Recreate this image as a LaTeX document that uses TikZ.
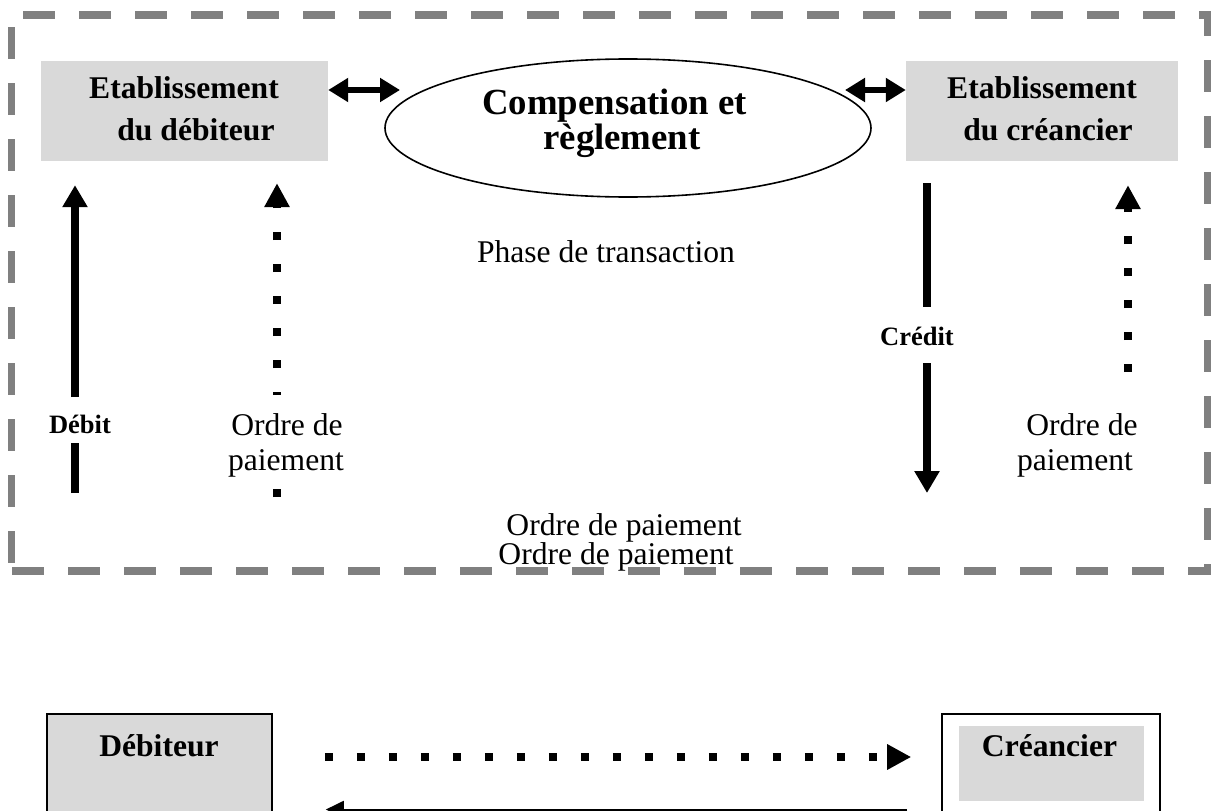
\documentclass[tikz,border=0pt]{standalone}
\usepackage{fontspec}
\setmainfont{Liberation Serif}
\usetikzlibrary{arrows.meta,shapes.geometric}
\definecolor{boxgray}{RGB}{217,217,217}
\definecolor{framegray}{RGB}{128,128,128}

\begin{document}
\begin{tikzpicture}[x=1pt,y=-1pt,
  frame/.style={draw=framegray, line width=7.5pt, dash pattern=on 32pt off 24pt},
  bank/.style={fill=boxgray, draw=none, inner sep=0pt},
  party/.style={draw, line width=1.6pt, inner sep=0pt},
  txt/.style={inner sep=0pt, anchor=base, font=\fontsize{31.6}{35}\selectfont},
  btxt/.style={txt, font=\bfseries\fontsize{31.6}{35}\selectfont},
  htxt/.style={txt, font=\bfseries\fontsize{36.8}{40}\selectfont},
  stxt/.style={txt, font=\bfseries\fontsize{26.5}{30}\selectfont},
  dbl/.style={line width=6pt, {Triangle[length=20pt,width=23pt]}-{Triangle[length=20pt,width=23pt]}},
  heavy/.style={line width=8pt},
  heavyarrow/.style={heavy, -{Triangle[length=22pt,width=24pt]}},
  dots/.style={line width=8pt, dash pattern=on 8pt off 24pt},
  dotsarrow/.style={dots, -{Triangle[length=24pt,width=24pt]}},
  thinarrow/.style={line width=2pt, -{Triangle[length=18pt,width=17pt]}}
]
\clip (0,0) rectangle (1211,811);

% dashed frame around the interbank part
\draw[frame] (23,15) -- (1215,15);
\draw[frame] (11.5,27) -- (11.5,575);
\draw[frame, dash phase=7pt] (1208,11) -- (1208,575);
\draw[frame] (12,571) -- (1215,571);

% banks and clearing
\node[bank, minimum width=287pt, minimum height=100pt] (deb) at (184.5,111) {};
\node[bank, minimum width=272pt, minimum height=100pt] (cre) at (1042,111) {};
\node[btxt] (deb1) at (184,98) {Etablissement};
\node[btxt] (deb2) at (196,140) {du débiteur};
\node[btxt] (cre1) at (1042,98) {Etablissement};
\node[btxt] (cre2) at (1048,140) {du créancier};

\node[ellipse, draw, line width=1.6pt, minimum width=486pt, minimum height=138pt, inner sep=0pt] (clr) at (628,128) {};
\node[htxt] (clr1) at (614.5,114) {Compensation et};
\node[htxt] (clr2) at (622,149) {règlement};

\coordinate (lda) at (400,90);
\draw[dbl] (deb.east |- lda) -- (lda);
\coordinate (rda) at (845,90);
\draw[dbl] (rda) -- (cre.west |- rda);

\node[txt] (phase) at (606,262) {Phase de transaction};

% debit side
\coordinate (dbbot) at (75,493);
\coordinate (dbgb) at (75,443);
\coordinate (dbgt) at (75,397);
\node[stxt] (debit) at (80,433) {Débit};
\draw[heavy] (dbbot) -- (dbgb);
\draw[heavyarrow, shorten >=24pt] (dbgt) -- (deb.south -| dbgt);

\coordinate (ldb) at (277,497);
\coordinate (ldc) at (277,489);
\coordinate (ldu) at (277,395);
\draw[dots] (ldb) -- (ldc);
\draw[dotsarrow, dash phase=5pt, shorten >=22pt] (ldu) -- (deb.south -| ldu);
\node[txt] (ol1) at (287,435) {Ordre de};
\node[txt] (ol2) at (286,470) {paiement};

% credit side
\coordinate (crg1) at (927,307);
\coordinate (crg2) at (927,363);
\coordinate (crtip) at (927,493);
\draw[heavy, shorten <=22pt] (cre.south -| crg1) -- (crg1);
\draw[heavyarrow] (crg2) -- (crtip);
\node[stxt] (credit) at (917,345) {Crédit};

\coordinate (rdb) at (1128,372);
\draw[dotsarrow, shorten >=24pt] (rdb) -- (cre.south -| rdb);
\node[txt] (or1) at (1082,435) {Ordre de};
\node[txt] (or2) at (1075,470) {paiement};

\node[txt] (op1) at (624,535) {Ordre de paiement};
\node[txt] (op2) at (616,564) {Ordre de paiement};

% customers
\node[party, fill=boxgray, minimum width=225pt, minimum height=120pt] (dbt) at (159.5,774) {};
\node[btxt] (dbtl) at (159,756) {Débiteur};
\node[party, fill=white, minimum width=218pt, minimum height=120pt] (crd) at (1051,774) {};
\node[bank, minimum width=185pt, minimum height=75pt] (crdin) at (1051.5,763.5) {};
\node[btxt] (crdl) at (1049.5,756) {Créancier};

\coordinate (pay) at (600,757);
\draw[dotsarrow, shorten <=52pt, shorten >=30pt] (dbt.east |- pay) -- (crd.west |- pay);
\coordinate (ret) at (600,809.5);
\draw[thinarrow, shorten <=34pt, shorten >=53pt] (crd.west |- ret) -- (dbt.east |- ret);
\end{tikzpicture}
\end{document}
